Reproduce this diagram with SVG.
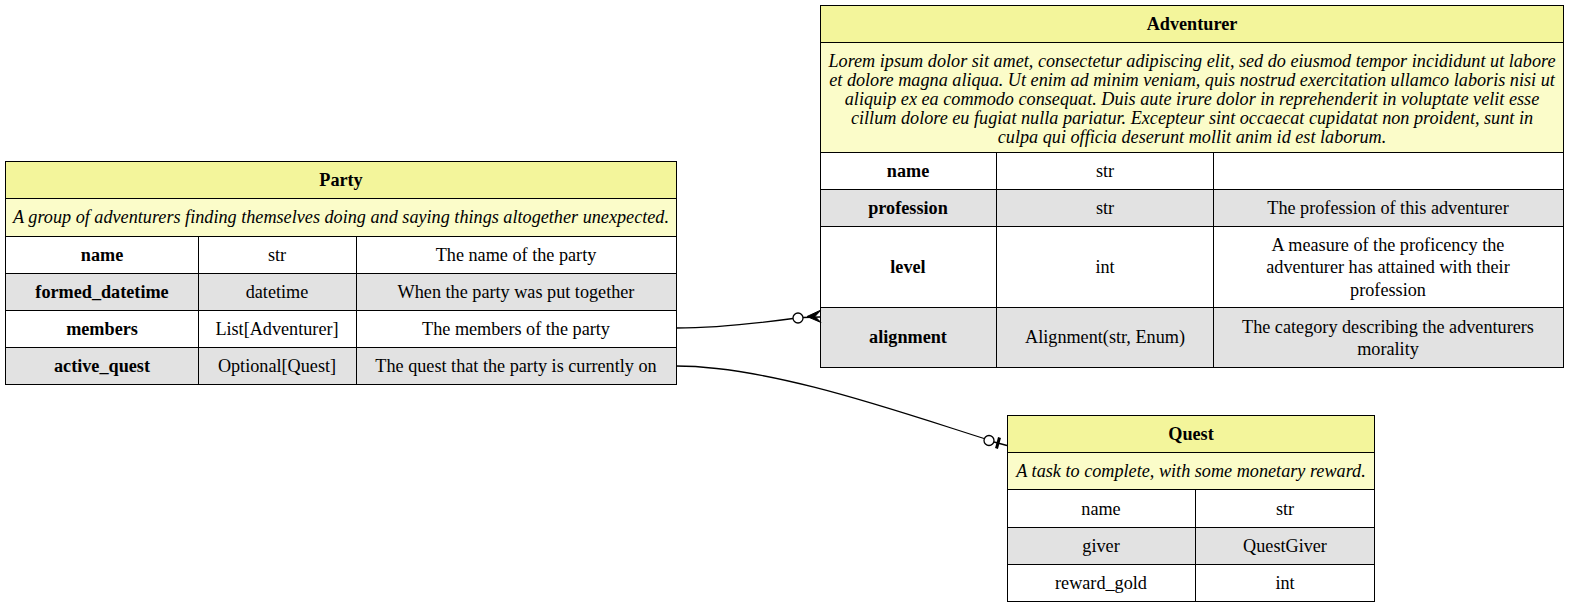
<svg xmlns="http://www.w3.org/2000/svg" width="1571" height="608" viewBox="0 0 1571 608" font-family="'Liberation Serif', 'DejaVu Serif', serif">
<style>
text{font-family:'Liberation Serif','DejaVu Serif',serif;font-size:18.2px;fill:#000;text-anchor:middle}
.b{font-weight:bold}
.i{font-style:italic}
.hd{fill:#f3f59b;stroke:#000;stroke-width:1}
.ds{fill:#fbfcc9;stroke:#000;stroke-width:1}
.w{fill:#fff;stroke:#000;stroke-width:1}
.g{fill:#e2e2e2;stroke:#000;stroke-width:1}
.ln{stroke:#000;stroke-width:1}
.edge{fill:none;stroke:#000;stroke-width:1.3}
</style>
<rect width="1571" height="608" fill="#fff"/>
<g id="party">
<rect class="hd" x="5.5" y="161.5" width="671" height="37"/>
<rect class="ds" x="5.5" y="198.5" width="671" height="38"/>
<rect class="w" x="5.5" y="236.5" width="671" height="37"/>
<rect class="g" x="5.5" y="273.5" width="671" height="37"/>
<rect class="w" x="5.5" y="310.5" width="671" height="37"/>
<rect class="g" x="5.5" y="347.5" width="671" height="37"/>
<line class="ln" x1="198.5" y1="236.5" x2="198.5" y2="384.5"/>
<line class="ln" x1="356.5" y1="236.5" x2="356.5" y2="384.5"/>
<text class="b" x="341" y="186">Party</text>
<text class="i" x="341" y="223">A group of adventurers finding themselves doing and saying things altogether unexpected.</text>
<text class="b" x="102" y="261">name</text><text x="277" y="261">str</text><text x="516" y="261">The name of the party</text>
<text class="b" x="102" y="298">formed_datetime</text><text x="277" y="298">datetime</text><text x="516" y="298">When the party was put together</text>
<text class="b" x="102" y="335">members</text><text x="277" y="335">List[Adventurer]</text><text x="516" y="335">The members of the party</text>
<text class="b" x="102" y="372">active_quest</text><text x="277" y="372">Optional[Quest]</text><text x="516" y="372">The quest that the party is currently on</text>
</g>
<g id="adventurer">
<rect class="hd" x="820.5" y="5.5" width="743" height="37"/>
<rect class="ds" x="820.5" y="42.5" width="743" height="110"/>
<rect class="w" x="820.5" y="152.5" width="743" height="37"/>
<rect class="g" x="820.5" y="189.5" width="743" height="37"/>
<rect class="w" x="820.5" y="226.5" width="743" height="81"/>
<rect class="g" x="820.5" y="307.5" width="743" height="60"/>
<line class="ln" x1="996.5" y1="152.5" x2="996.5" y2="367.5"/>
<line class="ln" x1="1213.5" y1="152.5" x2="1213.5" y2="367.5"/>
<text class="b" x="1192" y="30">Adventurer</text>
<text class="i" x="1192" y="67">Lorem ipsum dolor sit amet, consectetur adipiscing elit, sed do eiusmod tempor incididunt ut labore</text>
<text class="i" x="1192" y="86">et dolore magna aliqua. Ut enim ad minim veniam, quis nostrud exercitation ullamco laboris nisi ut</text>
<text class="i" x="1192" y="105">aliquip ex ea commodo consequat. Duis aute irure dolor in reprehenderit in voluptate velit esse</text>
<text class="i" x="1192" y="124">cillum dolore eu fugiat nulla pariatur. Excepteur sint occaecat cupidatat non proident, sunt in</text>
<text class="i" x="1192" y="143">culpa qui officia deserunt mollit anim id est laborum.</text>
<text class="b" x="908" y="177">name</text><text x="1105" y="177">str</text>
<text class="b" x="908" y="214">profession</text><text x="1105" y="214">str</text><text x="1388" y="214">The profession of this adventurer</text>
<text class="b" x="908" y="273">level</text><text x="1105" y="273">int</text>
<text x="1388" y="251">A measure of the proficency the</text>
<text x="1388" y="273">adventurer has attained with their</text>
<text x="1388" y="296">profession</text>
<text class="b" x="908" y="343">alignment</text><text x="1105" y="343">Alignment(str, Enum)</text>
<text x="1388" y="333">The category describing the adventurers</text>
<text x="1388" y="355">morality</text>
</g>
<g id="quest">
<rect class="hd" x="1007.5" y="415.5" width="367" height="37"/>
<rect class="ds" x="1007.5" y="452.5" width="367" height="37"/>
<rect class="w" x="1007.5" y="489.5" width="367" height="38"/>
<rect class="g" x="1007.5" y="527.5" width="367" height="37"/>
<rect class="w" x="1007.5" y="564.5" width="367" height="37"/>
<line class="ln" x1="1195.5" y1="489.5" x2="1195.5" y2="601.5"/>
<text class="b" x="1191" y="440">Quest</text>
<text class="i" x="1191" y="477">A task to complete, with some monetary reward.</text>
<text x="1101" y="515">name</text><text x="1285" y="515">str</text>
<text x="1101" y="552">giver</text><text x="1285" y="552">QuestGiver</text>
<text x="1101" y="589">reward_gold</text><text x="1285" y="589">int</text>
</g>
<g id="connectors">
<path class="edge" d="M676,328 C720,328 760,323 793,318.5"/>
<circle cx="798" cy="318" r="5" fill="#fff" stroke="#000" stroke-width="1.3"/>
<line class="edge" x1="803" y1="317.5" x2="820" y2="317"/>
<polygon points="821,310 807,316.5 821,322.5 815,316.5" fill="#000" stroke="#000" stroke-width="1"/>
<path class="edge" d="M676,366 C770,366 900,412 984,438.5"/>
<circle cx="989" cy="440.5" r="5" fill="#fff" stroke="#000" stroke-width="1.3"/>
<line class="edge" x1="994" y1="442" x2="1007" y2="445.5"/>
<line x1="999.5" y1="437.5" x2="996.5" y2="448.5" stroke="#000" stroke-width="3"/>
</g>
</svg>
